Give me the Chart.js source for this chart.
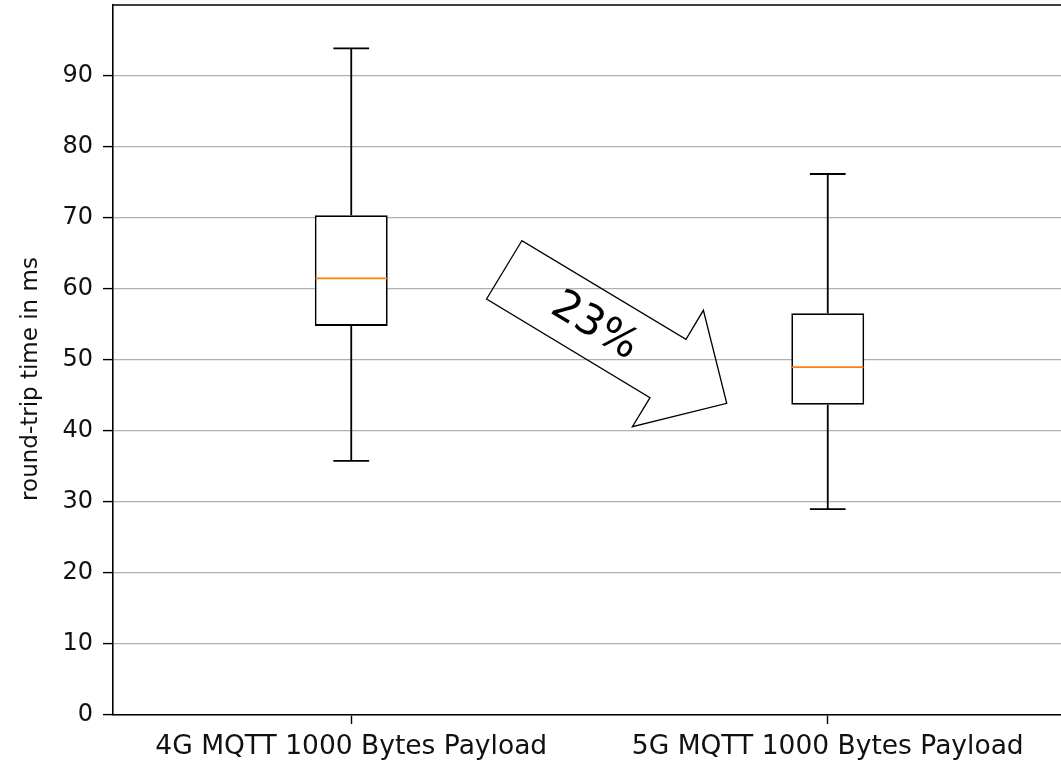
<!DOCTYPE html>
<html>
<head>
<meta charset="utf-8">
<script src="https://cdn.jsdelivr.net/npm/chart.js@4"></script>
<style>
  html, body { margin: 0; padding: 0; background: #fff; overflow: hidden; }
  #wrap { width: 1061px; height: 762px; overflow: hidden; position: relative; }
  #c { display: block; }
</style>
</head>
<body>
<div id="wrap"><canvas id="c" width="1066" height="762"></canvas></div>
<script>
// ---- data ----
const categories = ['4G MQTT 1000 Bytes Payload', '5G MQTT 1000 Bytes Payload'];
const whiskerLow  = [35.8, 29.0];
const q1          = [54.8, 43.7];
const median      = [61.5, 49.0];
const q3          = [70.4, 56.6];
const whiskerHigh = [93.9, 76.2];
const yTicks = [0, 10, 20, 30, 40, 50, 60, 70, 80, 90];
const yLabel = 'round-trip time in ms';
// annotation arrow outline, in data space (x = category index, y = value)
const arrowX = [0.358, 0.284, 0.627, 0.590, 0.788, 0.739, 0.7025];
const arrowY = [66.8, 58.6, 44.7, 40.6, 43.9, 57.0, 52.9];
const arrowText = '23%';
const arrowTextPos = [0.51, 54.7];

const FONT = "'DejaVu Sans', sans-serif";

const boxPlugin = {
  id: 'boxDecor',
  afterDatasetsDraw(chart) {
    const ctx = chart.ctx;
    const xs = chart.scales.x, ys = chart.scales.y;
    const catW = (xs.getPixelForValue(1) - xs.getPixelForValue(0));
    const boxW = catW * 0.15;
    const capW = boxW / 2;
    const a = chart.chartArea;
    ctx.save();
    ctx.lineCap = 'butt';
    for (let i = 0; i < categories.length; i++) {
      const cx = xs.getPixelForValue(i);
      ctx.strokeStyle = '#000';
      ctx.lineWidth = 1.8;
      // whiskers
      ctx.beginPath();
      ctx.moveTo(cx, ys.getPixelForValue(q3[i]));
      ctx.lineTo(cx, ys.getPixelForValue(whiskerHigh[i]));
      ctx.moveTo(cx, ys.getPixelForValue(q1[i]));
      ctx.lineTo(cx, ys.getPixelForValue(whiskerLow[i]));
      ctx.stroke();
      // caps
      ctx.beginPath();
      ctx.moveTo(cx - capW / 2, ys.getPixelForValue(whiskerHigh[i]));
      ctx.lineTo(cx + capW / 2, ys.getPixelForValue(whiskerHigh[i]));
      ctx.moveTo(cx - capW / 2, ys.getPixelForValue(whiskerLow[i]));
      ctx.lineTo(cx + capW / 2, ys.getPixelForValue(whiskerLow[i]));
      ctx.stroke();
      // median
      ctx.strokeStyle = '#ff7f0e';
      ctx.beginPath();
      ctx.moveTo(cx - boxW / 2, ys.getPixelForValue(median[i]));
      ctx.lineTo(cx + boxW / 2, ys.getPixelForValue(median[i]));
      ctx.stroke();
    }
    // arrow annotation
    ctx.strokeStyle = '#000';
    ctx.lineWidth = 1.3;
    ctx.lineJoin = 'miter';
    ctx.beginPath();
    arrowX.forEach((v, k) => {
      const px = xs.getPixelForValue(0) + v * catW;
      const py = ys.getPixelForValue(arrowY[k]);
      if (k === 0) ctx.moveTo(px, py); else ctx.lineTo(px, py);
    });
    ctx.closePath();
    ctx.stroke();
    ctx.save();
    const tx = xs.getPixelForValue(0) + arrowTextPos[0] * catW;
    const ty = ys.getPixelForValue(arrowTextPos[1]);
    ctx.translate(tx, ty);
    ctx.rotate(31 * Math.PI / 180);
    ctx.fillStyle = '#000';
    ctx.font = '42px ' + FONT;
    ctx.textAlign = 'center';
    ctx.textBaseline = 'middle';
    ctx.fillText(arrowText, 0, 0);
    ctx.restore();
    // top spine
    ctx.strokeStyle = '#000';
    ctx.lineWidth = 1.6;
    ctx.beginPath();
    ctx.moveTo(a.left, a.top);
    ctx.lineTo(a.right, a.top);
    ctx.stroke();
    // y axis label
    ctx.save();
    ctx.translate(31, 379);
    ctx.rotate(-Math.PI / 2);
    ctx.fillStyle = '#111';
    ctx.font = '23px ' + FONT;
    ctx.textAlign = 'center';
    ctx.textBaseline = 'middle';
    ctx.fillText(yLabel, 0, 0);
    ctx.restore();
    ctx.restore();
  }
};

new Chart(document.getElementById('c'), {
  type: 'bar',
  data: {
    labels: categories,
    datasets: [{
      data: categories.map((c, i) => [q1[i], q3[i]]),
      backgroundColor: '#ffffff',
      borderColor: '#000000',
      borderWidth: 1.8,
      borderSkipped: false,
      barPercentage: 0.153,
      categoryPercentage: 1.0
    }]
  },
  options: {
    responsive: false,
    maintainAspectRatio: false,
    animation: false,
    events: [],
    layout: { padding: { top: 5, left: 0, right: 0, bottom: 0 } },
    plugins: { legend: { display: false }, tooltip: { enabled: false } },
    scales: {
      x: {
        offset: true,
        grid: { offset: false, drawOnChartArea: false, drawTicks: true, tickLength: 9, tickColor: '#000', tickWidth: 1.4 },
        border: { color: '#000', width: 1.6 },
        ticks: { color: '#111', font: { family: FONT, size: 26.5 }, padding: 7, maxRotation: 0, autoSkip: false },
        afterFit(s) { s.height = 47; s.paddingLeft = 0; s.paddingRight = 0; }
      },
      y: {
        min: 0,
        max: 100,
        afterBuildTicks(s) { s.ticks = yTicks.map(v => ({ value: v })); },
        grid: { color: '#b0b0b0', lineWidth: 1.2, drawTicks: true, tickLength: 10, tickColor: '#000', tickWidth: 1.4 },
        border: { color: '#000', width: 1.6 },
        ticks: { color: '#111', font: { family: FONT, size: 24 }, padding: 10 },
        afterFit(s) { s.width = 113; s.paddingTop = 0; s.paddingBottom = 0; }
      }
    }
  },
  plugins: [boxPlugin]
});
</script>
</body>
</html>
